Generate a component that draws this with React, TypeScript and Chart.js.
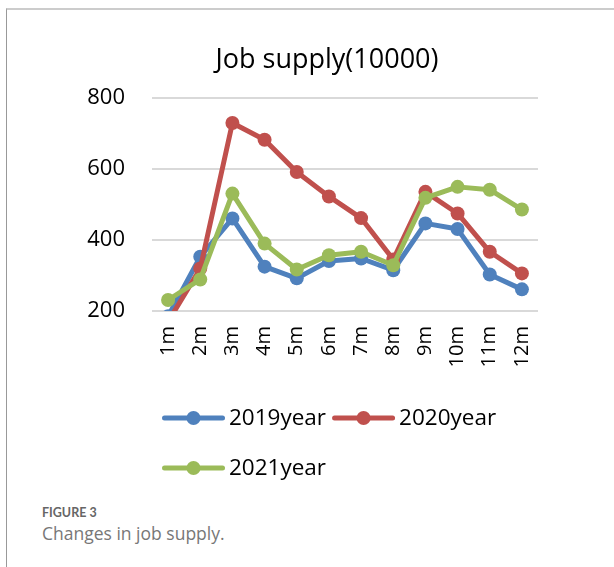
import React, { useEffect, useRef } from "react";
import { Chart, registerables } from "chart.js";

Chart.register(...registerables);

const categories = ["1m", "2m", "3m", "4m", "5m", "6m", "7m", "8m", "9m", "10m", "11m", "12m"];
const series2019 = [185, 353, 461, 325, 292, 341, 348, 315, 447, 431, 303, 261];
const series2020 = [170, 320, 730, 683, 592, 523, 462, 345, 536, 475, 367, 306];
const series2021 = [231, 289, 531, 390, 317, 357, 367, 329, 519, 550, 542, 486];
const yTicks = [200, 400, 600, 800];
const seriesNames = ["2019year", "2020year", "2021year"];
const seriesColors = ["#4F81BD", "#C0504D", "#9BBB59"];
const chartTitle = "Job supply(10000)";
const figureLabel = "FIGURE 3";
const figureCaption = "Changes in job supply.";

const legendPlugin = {
  id: "customLegend",
  afterDraw(chart: any) {
    const ctx = chart.ctx;
    const startX = 122;
    const rowYs = [418, 468];
    const lineW = 63;
    const gapText = 4;
    const gapItem = 6;
    ctx.save();
    ctx.font = '22.5px "Open Sans"';
    ctx.textBaseline = "middle";
    ctx.textAlign = "left";
    let x = startX;
    let row = 0;
    chart.data.datasets.forEach((ds: any) => {
      const tw = ctx.measureText(ds.label).width;
      const itemW = lineW + gapText + tw;
      if (x + itemW > chart.width && x > startX) {
        row += 1;
        x = startX;
      }
      const y = rowYs[row] ?? rowYs[0] + row * 50;
      ctx.strokeStyle = ds.borderColor;
      ctx.lineWidth = 5;
      ctx.lineCap = "round";
      ctx.beginPath();
      ctx.moveTo(x + 2.5, y);
      ctx.lineTo(x + lineW - 2.5, y);
      ctx.stroke();
      ctx.fillStyle = ds.borderColor;
      ctx.beginPath();
      ctx.arc(x + lineW / 2, y, 7, 0, Math.PI * 2);
      ctx.fill();
      ctx.fillStyle = "#000";
      ctx.fillText(ds.label, x + lineW + gapText, y + 0.5);
      x += itemW + gapItem;
    });
    ctx.restore();
  },
};

export default function App() {
  const canvasRef = useRef<HTMLCanvasElement | null>(null);

  useEffect(() => {
    if (!canvasRef.current) return;
    const allSeries = [series2019, series2020, series2021];
    const chart = new Chart(canvasRef.current, {
      type: "line",
      data: {
        labels: categories,
        datasets: allSeries.map((d, i) => ({
          label: seriesNames[i],
          data: d,
          borderColor: seriesColors[i],
          backgroundColor: seriesColors[i],
          borderWidth: 5,
          borderJoinStyle: "round",
          borderCapStyle: "round",
          pointRadius: 7,
          pointHoverRadius: 7,
          pointBorderWidth: 0,
          pointBackgroundColor: seriesColors[i],
          tension: 0,
          order: 3 - i,
        })),
      },
      options: {
        animation: false,
        responsive: false,
        maintainAspectRatio: false,
        events: [],
        layout: { padding: { left: 0, right: 0, top: 0, bottom: 119 } },
        plugins: {
          legend: { display: false },
          tooltip: { enabled: false },
          title: {
            display: true,
            text: chartTitle,
            color: "#000",
            font: { family: "Open Sans", size: 27, weight: "normal" },
            padding: { top: 44, bottom: 21.8 },
          },
        },
        scales: {
          x: {
            type: "category",
            offset: true,
            grid: { display: false },
            border: { display: false },
            ticks: {
              color: "#000",
              font: { family: "Open Sans", size: 20 },
              minRotation: 90,
              maxRotation: 90,
              padding: 7,
              autoSkip: false,
            },
            afterFit: (s: any) => {
              s.height = 70;
            },
          },
          y: {
            type: "linear",
            position: "left",
            min: 200,
            max: 800,
            grid: { color: "#d9d9d9", lineWidth: 2, drawTicks: false },
            border: { display: false },
            ticks: {
              color: "#000",
              font: { family: "Open Sans", size: 22 },
              padding: 27,
            },
            afterBuildTicks: (s: any) => {
              s.ticks = yTicks.map((v) => ({ value: v }));
            },
            afterFit: (s: any) => {
              s.width = 112;
            },
          },
          yRight: {
            type: "linear",
            position: "right",
            display: true,
            grid: { display: false },
            border: { display: false },
            ticks: { display: false },
            afterFit: (s: any) => {
              s.width = 76;
            },
          },
        },
      },
      plugins: [legendPlugin],
    } as any);
    return () => chart.destroy();
  }, []);

  return (
    <div>
      <div
        style={{
          position: "absolute",
          left: 6,
          top: 8,
          width: 608,
          height: 559,
          boxSizing: "border-box",
          borderTop: "2px solid #cccccc",
          borderLeft: "1px solid #999999",
        }}
      />
      <canvas
        ref={canvasRef}
        width={574}
        height={500}
        style={{ position: "absolute", left: 40, top: 0, width: 574, height: 500, display: "block" }}
      />
      <div
        style={{
          position: "absolute",
          left: 42,
          top: 506,
          fontFamily: "Lato",
          fontWeight: 700,
          fontSize: 12.5,
          lineHeight: "14px",
          color: "#666",
          whiteSpace: "nowrap",
        }}
      >
        {figureLabel}
      </div>
      <div
        style={{
          position: "absolute",
          left: 42,
          top: 524,
          fontFamily: "Open Sans",
          fontWeight: 400,
          fontSize: 17.5,
          lineHeight: "18px",
          color: "#777",
          whiteSpace: "nowrap",
        }}
      >
        {figureCaption}
      </div>
    </div>
  );
}
